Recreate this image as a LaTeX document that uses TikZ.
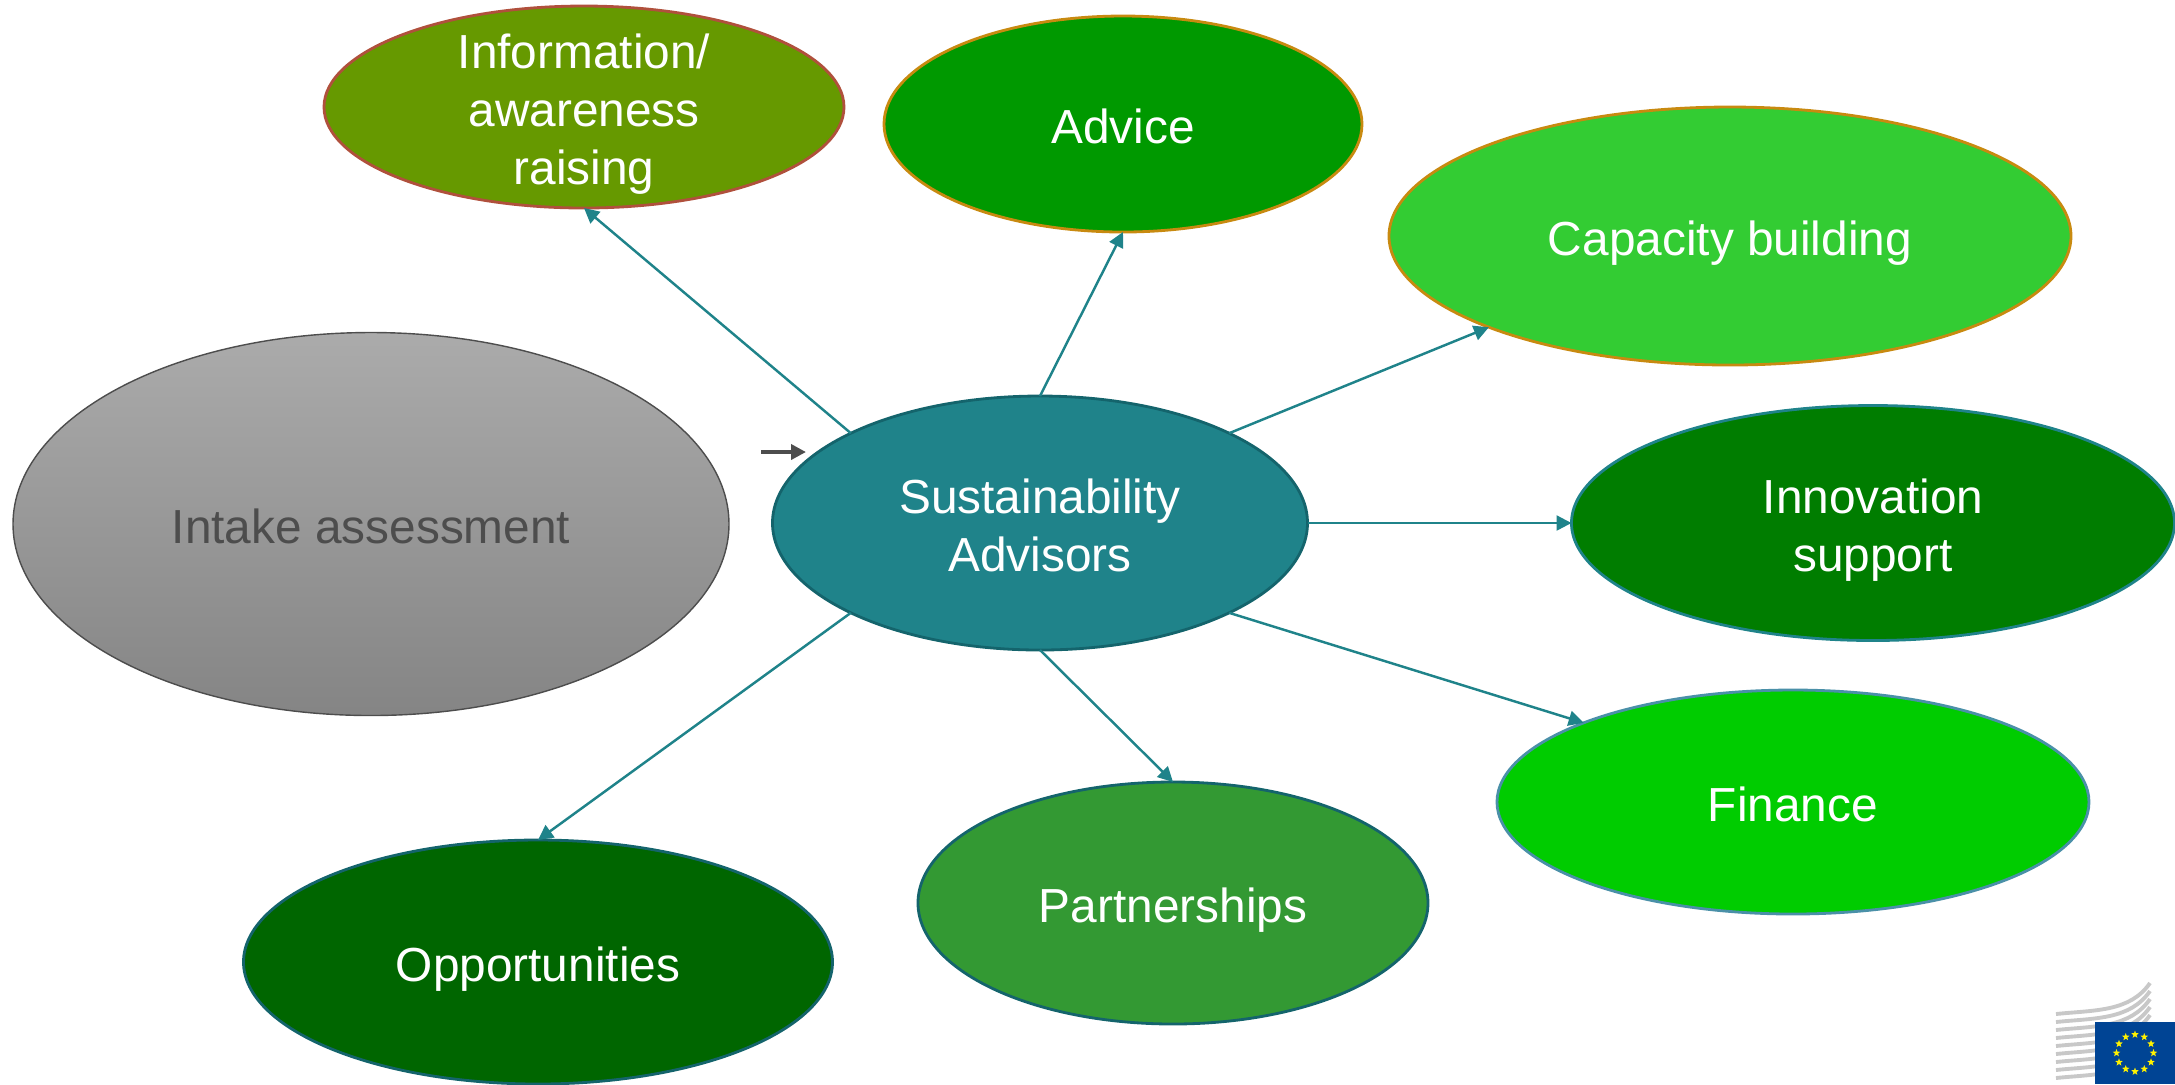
\documentclass[tikz,border=0pt]{standalone}
\usepackage{fontspec}
\setmainfont{Liberation Sans}
\usetikzlibrary{arrows.meta, shapes.geometric}
\definecolor{teal}{HTML}{1F838A}
\definecolor{tealdark}{HTML}{14646C}
\definecolor{brick}{HTML}{B0503C}
\definecolor{ochre}{HTML}{C88A10}
\definecolor{skyline}{HTML}{4A90A8}
\definecolor{intake}{HTML}{4D4D4D}
\definecolor{olive}{HTML}{669900}
\definecolor{leaf}{HTML}{009900}
\definecolor{lime}{HTML}{33CC33}
\definecolor{forest}{HTML}{007D00}
\definecolor{bright}{HTML}{00CC00}
\definecolor{moss}{HTML}{339933}
\definecolor{pine}{HTML}{006600}
\definecolor{eublue}{HTML}{004494}
\definecolor{eugrey}{HTML}{C8C8C8}
\newcommand{\tstrut}{\rule{0pt}{14pt}}
\newcommand{\bstrut}{\rule[-3pt]{0pt}{3pt}}
\tikzset{
	goal/.style={draw, ellipse, inner sep=-4mm, outer sep=0pt, line width=0.8pt, text=white, align=center, font=\fontsize{13.6}{16.6}\selectfont},
	link/.style={draw=teal, line width=0.7pt, -{Triangle[length=1.5mm, width=1.5mm]}},
	eustar/.style={star, star points=5, star point ratio=2.4, fill=yellow, inner sep=0pt, minimum size=0.8mm},
}
\begin{document}
\begin{tikzpicture}
		\useasboundingbox (0, 0) rectangle (21.75, -10.84);
		\node[goal, draw=tealdark, fill=teal, minimum width=5.35cm, minimum height=2.54cm] (sust) at (10.40, -5.23) {\tstrut Sustainability\\Advisors\bstrut};
		\node[goal, draw=intake, line width=0.4pt, top color=black!33, bottom color=black!48, text=intake, minimum width=7.16cm, minimum height=3.83cm] (assess) at (3.71, -5.24) {\tstrut Intake assessment\bstrut};
		\node[goal, draw=brick, fill=olive, minimum width=5.20cm, minimum height=2.02cm] (info) at (5.84, -1.07) {\tstrut Information/\\awareness\\raising\bstrut};
		\node[goal, draw=ochre, fill=leaf, minimum width=4.78cm, minimum height=2.16cm] (advice) at (11.23, -1.24) {\tstrut Advice\bstrut};
		\node[goal, draw=ochre, fill=lime, minimum width=6.82cm, minimum height=2.58cm] (capacity) at (17.30, -2.36) {\tstrut Capacity building\bstrut};
		\node[goal, draw=teal, fill=forest, minimum width=6.03cm, minimum height=2.35cm] (innov) at (18.73, -5.23) {\tstrut Innovation\\support\bstrut};
		\node[goal, draw=skyline, fill=bright, minimum width=5.92cm, minimum height=2.24cm] (finance) at (17.93, -8.02) {\tstrut Finance\bstrut};
		\node[goal, draw=tealdark, fill=moss, minimum width=5.10cm, minimum height=2.42cm] (partner) at (11.73, -9.03) {\tstrut Partnerships\bstrut};
		\node[goal, draw=tealdark, fill=pine, minimum width=5.89cm, minimum height=2.44cm] (opport) at (5.38, -9.62) {\tstrut Opportunities\bstrut};
		\draw[link] (sust.north west) -- (info.south);
		\draw[link] (sust.north) -- (advice.south);
		\draw[link] (sust.north east) -- (capacity.south west);
		\draw[link] (sust.east) -- (innov.west);
		\draw[link] (sust.south east) -- (finance.north west);
		\draw[link] (sust.south) -- (partner.north);
		\draw[link] (sust.south west) -- (opport.north);
		\coordinate (feedfrom) at (7.61, -4.52);
		\coordinate (feedto) at (8.06, -4.52);
		\draw[draw=intake, line width=1.1pt, -{Triangle[length=1.5mm, width=1.5mm]}] (feedfrom) -- (feedto);
		\foreach \i in {0,...,8}
			\draw[eugrey, line width=1.1pt] (20.56, -10.14-\i*0.08) .. controls (20.95, -10.10-\i*0.08) and (21.30, -10.12-\i*0.08) .. (21.50, -9.83-\i*0.08);
		\node[fill=eublue, inner sep=0pt, minimum width=0.80cm, minimum height=0.62cm] (flag) at (21.35, -10.53) {};
		\foreach \a in {0,30,...,330}
			\node[eustar] (star\a) at ([shift={(\a:0.185)}]flag.center) {};
	\end{tikzpicture}
\end{document}
